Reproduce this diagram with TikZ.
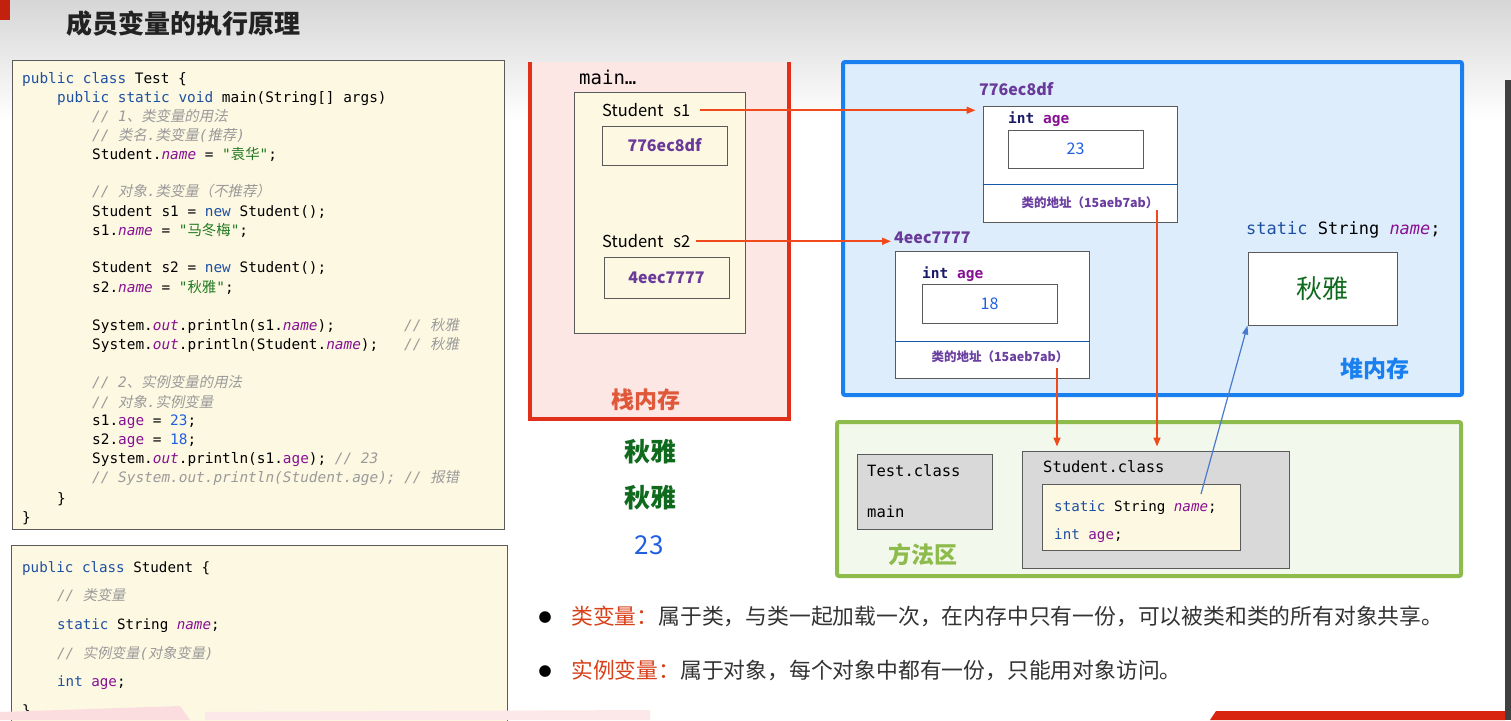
\documentclass[tikz,border=0pt]{standalone}
\usepackage{fontspec}
\setmainfont{Noto Sans CJK SC}
\setmonofont{DejaVu Sans Mono}
\newfontfamily\cjk{Noto Sans CJK SC}
\newfontfamily\cjkit{Noto Sans CJK SC}[FakeSlant=0.2]
\usetikzlibrary{arrows.meta}

\definecolor{kwblue}{HTML}{1E50A2}
\definecolor{fdpurple}{HTML}{871094}
\definecolor{cmgray}{HTML}{9A9A9A}
\definecolor{strgreen}{HTML}{217A21}
\definecolor{numblue}{HTML}{1F5FE0}
\definecolor{codebg}{HTML}{FDF8E2}
\definecolor{boxgray}{HTML}{5A5A5A}
\definecolor{stackred}{HTML}{E0301A}
\definecolor{stackbg}{HTML}{FDE7E4}
\definecolor{stacktxt}{HTML}{E0583A}
\definecolor{heapblue}{HTML}{1A80F0}
\definecolor{heapbg}{HTML}{DDEDFB}
\definecolor{methgreen}{HTML}{8DBB4C}
\definecolor{methbg}{HTML}{F3F8EC}
\definecolor{hexpurple}{HTML}{6A3A9A}
\definecolor{addrpurple}{HTML}{6B3FA0}
\definecolor{intnavy}{HTML}{1A1A6A}
\definecolor{arrred}{HTML}{F04A1C}
\definecolor{arrblue}{HTML}{4A7ACB}
\definecolor{qygreen}{HTML}{0F6A1E}
\definecolor{clsgray}{HTML}{D9D9D9}
\definecolor{notered}{HTML}{D8401A}
\definecolor{notetxt}{HTML}{333333}
\definecolor{titletxt}{HTML}{222222}
\definecolor{hdtop}{HTML}{D6D6D6}
\definecolor{bannerred}{HTML}{D8250F}
\definecolor{blobpink}{HTML}{FBDDE0}

\newcommand{\jkw}[1]{\textcolor{kwblue}{#1}}
\newcommand{\jfd}[1]{\textcolor{fdpurple}{\itshape #1}}
\newcommand{\jag}[1]{\textcolor{fdpurple}{#1}}
\newcommand{\jcm}[1]{\textcolor{cmgray}{\itshape #1}}
\newcommand{\jstr}[1]{\textcolor{strgreen}{#1}}
\newcommand{\jnum}[1]{\textcolor{numblue}{#1}}
\newcommand{\zh}[1]{{\cjk #1}}
\newcommand{\zhi}[1]{{\cjkit #1}}

\begin{document}
\begin{tikzpicture}[x=1pt,y=-1pt,
  codeln/.style={anchor=mid west,inner sep=0pt,yshift=-3pt,font=\ttfamily\fontsize{14.4}{16}\selectfont},
  codesm/.style={anchor=mid west,inner sep=0pt,yshift=-3pt,font=\ttfamily\fontsize{14.2}{16}\selectfont},
  monolbl/.style={anchor=mid west,inner sep=0pt,yshift=-3pt,font=\ttfamily\fontsize{15.5}{18}\selectfont},
  lbl/.style={anchor=mid west,inner sep=0pt,yshift=-3pt,font=\fontsize{16.5}{19}\selectfont},
  hexlbl/.style={font=\bfseries\fontsize{16}{19}\selectfont,text=hexpurple},
  valbox/.style={draw=boxgray,line width=1pt,inner sep=0pt},
  objbox/.style={draw=boxgray,fill=white,line width=1pt,inner sep=0pt},
  agelbl/.style={anchor=mid west,inner sep=0pt,yshift=-3pt,font=\ttfamily\bfseries\fontsize{14.5}{17}\selectfont},
  numlbl/.style={font=\fontsize{16}{19}\selectfont,text=numblue},
  addrlbl/.style={font=\bfseries\fontsize{12.5}{15}\selectfont,text=addrpurple},
  zonelbl/.style={font=\bfseries\fontsize{23}{26}\selectfont},
  clsbox/.style={draw=boxgray,fill=clsgray,line width=1pt,inner sep=0pt},
  outlbl/.style={font=\fontsize{26}{30}\selectfont},
  notelbl/.style={anchor=mid west,inner sep=0pt,yshift=-4pt,font=\fontsize{21.8}{24}\selectfont,text=notetxt},
  refarr/.style={draw=arrred,line width=1.6pt,-{Triangle[length=9pt,width=7pt]}},
  namearr/.style={draw=arrblue,line width=1.2pt,-{Triangle[length=9pt,width=6pt]}}]
\useasboundingbox (0,0) rectangle (1511,720);
\fill[white] (0,0) rectangle (1511,720);
\shade[top color=hdtop,bottom color=white] (0,0) rectangle (1511,120);
\fill[bannerred!90!black] (0,0) rectangle (10,20);
\fill[black!75] (1505,80) rectangle (1511,720);
\node[anchor=mid west,inner sep=0pt,font=\bfseries\fontsize{26}{30}\selectfont,text=titletxt] (title) at (66,31) {成员变量的执行原理};

% Test.java
\filldraw[fill=codebg,draw=boxgray,line width=1pt] (12,60) rectangle (504,529);
\node[codeln] (t1) at (22,78) {\jkw{public class} Test \{};
\node[codeln] (t2) at (57,97) {\jkw{public static void} main(String[] args)};
\node[codeln] (t3) at (92,116) {\jcm{// 1\zhi{、类变量的用法}}};
\node[codeln] (t4) at (92,135) {\jcm{// \zhi{类名}.\zhi{类变量}(\zhi{推荐})}};
\node[codeln] (t5) at (92,154) {Student.\jfd{name} = \jstr{"\zh{袁华}"};};
\node[codeln] (t6) at (92,191) {\jcm{// \zhi{对象}.\zhi{类变量（不推荐）}}};
\node[codeln] (t7) at (92,211) {Student s1 = \jkw{new} Student();};
\node[codeln] (t8) at (92,230) {s1.\jfd{name} = \jstr{"\zh{马冬梅}"};};
\node[codeln] (t9) at (92,267) {Student s2 = \jkw{new} Student();};
\node[codeln] (t10) at (92,287) {s2.\jfd{name} = \jstr{"\zh{秋雅}"};};
\node[codeln] (t11) at (92,325) {System.\jfd{out}.println(s1.\jfd{name});};
\node[codeln] (t11c) at (404,325) {\jcm{// \zhi{秋雅}}};
\node[codeln] (t12) at (92,344) {System.\jfd{out}.println(Student.\jfd{name});};
\node[codeln] (t12c) at (404,344) {\jcm{// \zhi{秋雅}}};
\node[codeln] (t13) at (92,382) {\jcm{// 2\zhi{、实例变量的用法}}};
\node[codeln] (t14) at (92,402) {\jcm{// \zhi{对象}.\zhi{实例变量}}};
\node[codeln] (t15) at (92,420) {s1.\jag{age} = \jnum{23};};
\node[codeln] (t16) at (92,439) {s2.\jag{age} = \jnum{18};};
\node[codeln] (t17) at (92,458) {System.\jfd{out}.println(s1.\jag{age}); \jcm{// 23}};
\node[codeln] (t18) at (92,477) {\jcm{// System.out.println(Student.age); // \zhi{报错}}};
\node[codeln] (t19) at (57,498) {\}};
\node[codeln] (t20) at (22,517) {\}};

% Student.java
\filldraw[fill=codebg,draw=boxgray,line width=1pt] (11,545) rectangle (507,730);
\node[codesm] (u1) at (22,567) {\jkw{public class} Student \{};
\node[codesm] (u2) at (57,595) {\jcm{// \zhi{类变量}}};
\node[codesm] (u3) at (57,624) {\jkw{static} String \jfd{name};};
\node[codesm] (u4) at (57,653) {\jcm{// \zhi{实例变量}(\zhi{对象变量})}};
\node[codesm] (u5) at (57,681) {\jkw{int} \jag{age};};
\node[codesm] (u6) at (22,710) {\}};

% stack
\fill[stackbg] (530,62) rectangle (789,419);
\draw[stackred,line width=3.5pt] (530,62) -- (530,419) -- (789,419) -- (789,62);
\node[anchor=mid west,inner sep=0pt,yshift=-3pt,font=\ttfamily\fontsize{19}{22}\selectfont] (mainfr) at (579,79) {main…};
\filldraw[fill=codebg,draw=boxgray,line width=1pt] (574,92) rectangle (745,333);
\node[lbl] (s1) at (602,111) {Student\hspace{0.6em}s1};
\node[valbox,minimum width=125pt,minimum height=39pt,hexlbl] (v1) at (664.5,145.5) {776ec8df};
\node[lbl] (s2) at (602,242) {Student\hspace{0.6em}s2};
\node[valbox,minimum width=125pt,minimum height=41pt,hexlbl] (v2) at (666.5,277.5) {4eec7777};
\node[zonelbl,text=stacktxt] (stk) at (646,400) {栈内存};

% heap
\filldraw[fill=heapbg,draw=heapblue,line width=4pt,rounded corners=2pt] (843,62) rectangle (1462,395);
\node[hexlbl,anchor=mid west,inner sep=0pt,yshift=-3pt] (a1) at (979,90) {776ec8df};
\node[objbox,minimum width=194pt,minimum height=116pt] (o1) at (1080,164) {};
\node[agelbl] (o1age) at (1008,118) {\textcolor{intnavy}{int} \jag{age}};
\node[objbox,minimum width=135pt,minimum height=38pt,numlbl] (o1val) at (1075.5,149) {23};
\draw[heapblue!70!black,line width=1pt] (o1.west |- 0,184) -- (o1.east |- 0,184);
\node[addrlbl] (o1cls) at (1090,203) {类的地址（15aeb7ab）};
\node[hexlbl,anchor=mid west,inner sep=0pt,yshift=-3pt] (a2) at (894,238) {4eec7777};
\node[objbox,minimum width=194pt,minimum height=127pt] (o2) at (992,314.5) {};
\node[agelbl] (o2age) at (922,273) {\textcolor{intnavy}{int} \jag{age}};
\node[objbox,minimum width=135pt,minimum height=39pt,numlbl] (o2val) at (989.5,303.5) {18};
\draw[heapblue!70!black,line width=1pt] (o2.west |- 0,341) -- (o2.east |- 0,341);
\node[addrlbl] (o2cls) at (1000,357) {类的地址（15aeb7ab）};
\node[anchor=mid west,inner sep=0pt,yshift=-3pt,font=\ttfamily\fontsize{17}{20}\selectfont] (hname) at (1246,229) {\jkw{static} String \jfd{name};};
\node[objbox,minimum width=149pt,minimum height=73pt,outlbl,text=qygreen] (qy) at (1322.5,288.5) {秋雅};
\node[zonelbl,text=heapblue] (hp) at (1375,369) {堆内存};

% method area
\filldraw[fill=methbg,draw=methgreen,line width=4pt,rounded corners=2pt] (837,422) rectangle (1461,576);
\node[clsbox,minimum width=135pt,minimum height=75pt] (tcls) at (924.5,491.5) {};
\node[monolbl] (tname) at (867,471) {Test.class};
\node[monolbl] (tmain) at (867,512) {main};
\node[clsbox,minimum width=267pt,minimum height=117pt] (scls) at (1155.5,509.5) {};
\node[monolbl] (sname) at (1043,467) {Student.class};
\node[valbox,fill=codebg,minimum width=198pt,minimum height=66pt] (sfld) at (1141,517) {};
\node[codesm] (sf1) at (1054,506) {\jkw{static} String \jfd{name};};
\node[codesm] (sf2) at (1054,534) {\jkw{int} \jag{age};};
\node[zonelbl,text=methgreen] (mth) at (923,555) {方法区};

% printed output
\node[outlbl,font=\bfseries\fontsize{26}{30}\selectfont,text=qygreen] (out1) at (650,452) {秋雅};
\node[outlbl,font=\bfseries\fontsize{26}{30}\selectfont,text=qygreen] (out2) at (650,498) {秋雅};
\node[outlbl,text=numblue] (out3) at (649,545) {23};

% references
\draw[refarr,shorten <=10pt,shorten >=7pt] (s1.east) -- (s1.east -| o1.west);
\draw[refarr,shorten <=6pt,shorten >=3pt] (s2.east) -- (s2.east -| a2.west);
\coordinate (adr1) at (1157,210);
\coordinate (adr2) at (1057,368);
\draw[refarr,shorten >=4pt] (adr1) -- (adr1 |- scls.north);
\draw[refarr,shorten >=4pt] (adr2) -- (adr2 |- scls.north);
\coordinate (snm) at (1201,494);
\draw[namearr] (snm) -- (qy.south west);

% notes
\node[font=\fontsize{13}{15}\selectfont] (dot1) at (545,618) {●};
\node[notelbl] (n1) at (571,618) {\textcolor{notered}{类变量：}属于类，与类一起加载一次，在内存中只有一份，可以被类和类的所有对象共享。};
\node[font=\fontsize{13}{15}\selectfont] (dot2) at (545,672) {●};
\node[notelbl] (n2) at (571,672) {\textcolor{notered}{实例变量：}属于对象，每个对象中都有一份，只能用对象访问。};

\fill[blobpink] (0,712) -- (180,706) -- (190,720) -- (0,720) -- cycle;
\fill[blobpink!70] (205,712) -- (650,710) -- (650,720) -- (205,720) -- cycle;
\fill[bannerred] (1210,720) -- (1216,711) -- (1505,711) -- (1505,720) -- cycle;
\end{tikzpicture}
\end{document}
